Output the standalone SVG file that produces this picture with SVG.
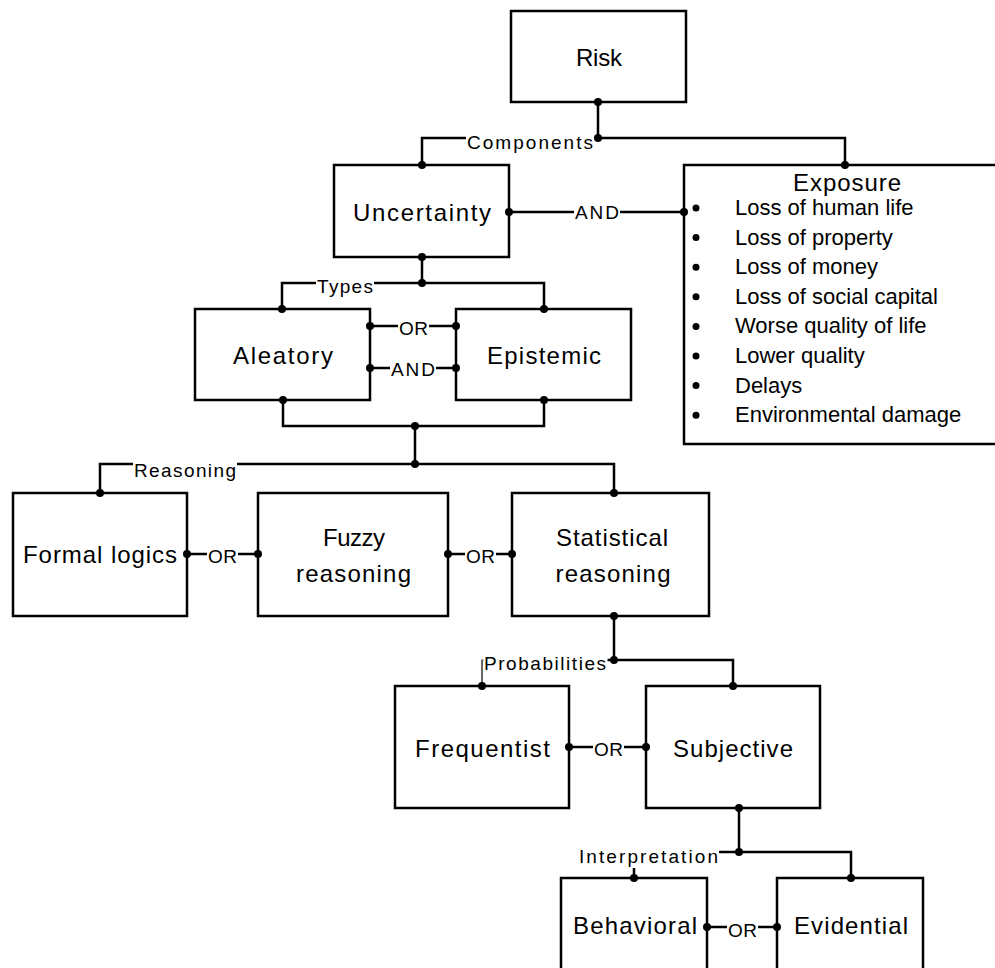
<svg xmlns="http://www.w3.org/2000/svg" width="995" height="968" viewBox="0 0 995 968">
  <style>
    .box { fill: #ffffff; stroke: #000000; stroke-width: 2.5; }
    .title { font-family: "Liberation Sans", Arial, sans-serif; font-size: 24px; fill: #000000; text-anchor: middle; }
    .item { font-family: "Liberation Sans", Arial, sans-serif; font-size: 22px; fill: #000000; }
    .lbl { font-family: "Liberation Sans", Arial, sans-serif; font-size: 19px; fill: #000000; }
    .wire { fill: none; stroke: #000000; stroke-width: 2.5; }
    .thin { fill: none; stroke: #000000; stroke-width: 1.2; }
    .mask { fill: #ffffff; stroke: none; }
    .dot { fill: #000000; }
  </style>

  <!-- nodes -->
  <g id="risk">
    <rect class="box" x="511" y="11" width="175" height="91"/>
    <text class="title" x="599" y="66" textLength="46" lengthAdjust="spacing">Risk</text>
  </g>

  <g id="uncertainty">
    <rect class="box" x="334" y="165" width="175" height="92"/>
    <text class="title" x="422" y="221" textLength="138" lengthAdjust="spacing">Uncertainty</text>
  </g>

  <g id="exposure">
    <path class="box" d="M1000,165 H684 V444 H1000"/>
    <text class="title" x="847" y="191" textLength="108" lengthAdjust="spacing">Exposure</text>
    <g class="dot">
      <circle cx="696" cy="208" r="3.5"/>
      <circle cx="696" cy="237.6" r="3.5"/>
      <circle cx="696" cy="267.2" r="3.5"/>
      <circle cx="696" cy="296.8" r="3.5"/>
      <circle cx="696" cy="326.4" r="3.5"/>
      <circle cx="696" cy="356" r="3.5"/>
      <circle cx="696" cy="385.6" r="3.5"/>
      <circle cx="696" cy="415.2" r="3.5"/>
    </g>
    <text class="item" x="735" y="215">Loss of human life</text>
    <text class="item" x="735" y="244.6">Loss of property</text>
    <text class="item" x="735" y="274.2">Loss of money</text>
    <text class="item" x="735" y="303.8">Loss of social capital</text>
    <text class="item" x="735" y="333.4">Worse quality of life</text>
    <text class="item" x="735" y="363">Lower quality</text>
    <text class="item" x="735" y="392.6">Delays</text>
    <text class="item" x="735" y="422.2">Environmental damage</text>
  </g>

  <g id="aleatory">
    <rect class="box" x="195" y="309" width="175" height="91"/>
    <text class="title" x="283" y="364" textLength="100" lengthAdjust="spacing">Aleatory</text>
  </g>

  <g id="epistemic">
    <rect class="box" x="456" y="309" width="175" height="91"/>
    <text class="title" x="544" y="364" textLength="114" lengthAdjust="spacing">Epistemic</text>
  </g>

  <g id="formal-logics">
    <rect class="box" x="13" y="493" width="174" height="123"/>
    <text class="title" x="100" y="563" textLength="154" lengthAdjust="spacing">Formal logics</text>
  </g>

  <g id="fuzzy-reasoning">
    <rect class="box" x="258" y="493" width="190" height="123"/>
    <text class="title" x="354" y="546" textLength="62" lengthAdjust="spacing">Fuzzy</text>
    <text class="title" x="353.5" y="582" textLength="115" lengthAdjust="spacing">reasoning</text>
  </g>

  <g id="statistical-reasoning">
    <rect class="box" x="512" y="493" width="197" height="123"/>
    <text class="title" x="612" y="546" textLength="112" lengthAdjust="spacing">Statistical</text>
    <text class="title" x="613" y="582" textLength="115" lengthAdjust="spacing">reasoning</text>
  </g>

  <g id="frequentist">
    <rect class="box" x="395" y="686" width="174" height="122"/>
    <text class="title" x="482.5" y="757" textLength="135" lengthAdjust="spacing">Frequentist</text>
  </g>

  <g id="subjective">
    <rect class="box" x="646" y="686" width="174" height="122"/>
    <text class="title" x="733" y="757" textLength="120" lengthAdjust="spacing">Subjective</text>
  </g>

  <g id="behavioral">
    <rect class="box" x="561" y="878" width="146" height="130"/>
    <text class="title" x="635" y="934" textLength="124" lengthAdjust="spacing">Behavioral</text>
  </g>

  <g id="evidential">
    <rect class="box" x="777" y="878" width="146" height="130"/>
    <text class="title" x="851" y="934" textLength="114" lengthAdjust="spacing">Evidential</text>
  </g>

  <!-- connectors -->
  <g id="connectors">
    <!-- Risk: components -->
    <path class="wire" d="M598,102 V138 M422,165 V138 H845 V165"/>
    <rect class="mask" x="466" y="131" width="128" height="23"/>
    <text class="lbl" x="467" y="149" textLength="126" lengthAdjust="spacing">Components</text>

    <!-- Uncertainty AND Exposure -->
    <path class="wire" d="M509,212 H684"/>
    <rect class="mask" x="574" y="202" width="46" height="22"/>
    <text class="lbl" x="575" y="219" textLength="44" lengthAdjust="spacing">AND</text>

    <!-- Uncertainty: types -->
    <path class="wire" d="M422,257 V283 M282,309 V283 H544 V309"/>
    <rect class="mask" x="316" y="275" width="58" height="23"/>
    <text class="lbl" x="317" y="293" textLength="56" lengthAdjust="spacing">Types</text>

    <!-- Aleatory OR / AND Epistemic -->
    <path class="wire" d="M370,326 H456 M370,368 H456"/>
    <rect class="mask" x="398" y="318" width="31" height="21"/>
    <text class="lbl" x="399" y="335" textLength="29" lengthAdjust="spacing">OR</text>
    <rect class="mask" x="390" y="359" width="46" height="21"/>
    <text class="lbl" x="391" y="376" textLength="44" lengthAdjust="spacing">AND</text>

    <!-- Aleatory + Epistemic: reasoning -->
    <path class="wire" d="M283,400 V426 H544 V400 M415,426 V464 M100,493 V464 H614 V493"/>
    <rect class="mask" x="133" y="459" width="104" height="24"/>
    <text class="lbl" x="134" y="477" textLength="102" lengthAdjust="spacing">Reasoning</text>

    <!-- Formal OR Fuzzy OR Statistical -->
    <path class="wire" d="M187,554 H258 M448,554 H512"/>
    <rect class="mask" x="207" y="546" width="31" height="21"/>
    <text class="lbl" x="208" y="563" textLength="29" lengthAdjust="spacing">OR</text>
    <rect class="mask" x="465" y="546" width="31" height="21"/>
    <text class="lbl" x="466" y="563" textLength="29" lengthAdjust="spacing">OR</text>

    <!-- Statistical: probabilities -->
    <path class="wire" d="M614,616 V660 H733 V686 M614,660 H483.5"/>
    <path class="thin" d="M482,659.5 V686"/>
    <rect class="mask" x="483.5" y="652" width="124" height="24"/>
    <text class="lbl" x="484" y="670" textLength="122" lengthAdjust="spacing">Probabilities</text>

    <!-- Frequentist OR Subjective -->
    <path class="wire" d="M569,747 H646"/>
    <rect class="mask" x="593" y="739" width="31" height="21"/>
    <text class="lbl" x="594" y="756" textLength="29" lengthAdjust="spacing">OR</text>

    <!-- Subjective: interpretation -->
    <path class="wire" d="M739,808 V852 H851 V878 M739,852 H718"/>
    <path class="wire" d="M634,868 V878"/>
    <rect class="mask" x="578" y="843" width="141" height="25"/>
    <text class="lbl" x="579" y="863" textLength="139" lengthAdjust="spacing">Interpretation</text>

    <!-- Behavioral OR Evidential -->
    <path class="wire" d="M707,927 H777"/>
    <rect class="mask" x="727" y="921" width="31" height="20"/>
    <text class="lbl" x="728" y="937" textLength="29" lengthAdjust="spacing">OR</text>

    <!-- connection points -->
    <g class="dot">
      <circle cx="598" cy="102" r="4"/>
      <circle cx="598" cy="138" r="4"/>
      <circle cx="422" cy="165" r="4"/>
      <circle cx="845" cy="165" r="4"/>
      <circle cx="509" cy="212" r="4"/>
      <circle cx="684" cy="212" r="4"/>
      <circle cx="422" cy="257" r="4"/>
      <circle cx="422" cy="283" r="4"/>
      <circle cx="282" cy="309" r="4"/>
      <circle cx="544" cy="309" r="4"/>
      <circle cx="370" cy="326" r="4"/>
      <circle cx="456" cy="326" r="4"/>
      <circle cx="370" cy="368" r="4"/>
      <circle cx="456" cy="368" r="4"/>
      <circle cx="283" cy="400" r="4"/>
      <circle cx="544" cy="400" r="4"/>
      <circle cx="415" cy="426" r="4"/>
      <circle cx="415" cy="464" r="4"/>
      <circle cx="100" cy="493" r="4"/>
      <circle cx="614" cy="493" r="4"/>
      <circle cx="187" cy="554" r="4"/>
      <circle cx="258" cy="554" r="4"/>
      <circle cx="448" cy="554" r="4"/>
      <circle cx="512" cy="554" r="4"/>
      <circle cx="614" cy="616" r="4"/>
      <circle cx="614" cy="660" r="4"/>
      <circle cx="482" cy="686" r="4"/>
      <circle cx="733" cy="686" r="4"/>
      <circle cx="569" cy="747" r="4"/>
      <circle cx="646" cy="747" r="4"/>
      <circle cx="739" cy="808" r="4"/>
      <circle cx="739" cy="852" r="4"/>
      <circle cx="634" cy="878" r="4"/>
      <circle cx="851" cy="878" r="4"/>
      <circle cx="707" cy="927" r="4"/>
      <circle cx="777" cy="927" r="4"/>
    </g>
  </g>
</svg>
